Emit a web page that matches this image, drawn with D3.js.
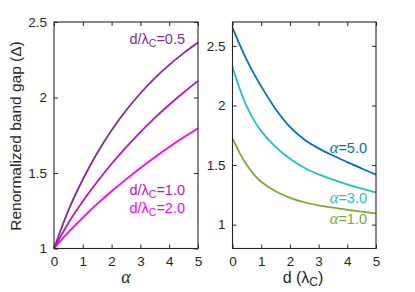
<!DOCTYPE html>
<html><head><meta charset="utf-8">
<script src="https://cdn.jsdelivr.net/npm/d3@7"></script>
<style>
html,body{margin:0;padding:0;background:#fff;}
svg{display:block;}
text{font-family:"Liberation Sans",Arial,Helvetica,sans-serif;fill:#262626;}
</style></head>
<body><svg id="c" width="415" height="292"></svg>
<script>
// ---------- data ----------
const alphaVals = [0, 0.5, 1, 1.5, 2, 2.5, 3, 3.5, 4, 4.5, 5];
const gapD05 = [1, 1.253, 1.457, 1.632, 1.783, 1.914, 2.028, 2.128, 2.216, 2.294, 2.364];
const gapD10 = [1, 1.169, 1.313, 1.442, 1.561, 1.670, 1.771, 1.865, 1.952, 2.033, 2.110];
const gapD20 = [1, 1.108, 1.205, 1.295, 1.379, 1.458, 1.533, 1.604, 1.672, 1.736, 1.797];

const dVals = [0, 0.25, 0.5, 0.75, 1, 1.5, 2, 2.5, 3, 3.5, 4, 4.5, 5];
const gapA5 = [2.653, 2.51, 2.38, 2.265, 2.16, 1.97, 1.82, 1.715, 1.64, 1.58, 1.525, 1.471, 1.42];
const gapA3 = [2.325, 2.14, 1.99, 1.875, 1.785, 1.652, 1.552, 1.477, 1.422, 1.377, 1.337, 1.302, 1.27];
const gapA1 = [1.725, 1.60, 1.50, 1.42, 1.36, 1.28, 1.225, 1.188, 1.162, 1.142, 1.125, 1.109, 1.095];

const xTicks = [0, 1, 2, 3, 4, 5];
const yTicksLeft = [1, 1.5, 2, 2.5];
const yTicksRight = [1, 1.5, 2, 2.5];

const leftSeries = [
  {name: "0.5", vals: gapD05, color: "#7E2F8E"},
  {name: "1.0", vals: gapD10, color: "#BE13BE"},
  {name: "2.0", vals: gapD20, color: "#FF00FF"}
];
const rightSeries = [
  {name: "5.0", vals: gapA5, color: "#0072BD"},
  {name: "3.0", vals: gapA3, color: "#1CC3C3"},
  {name: "1.0", vals: gapA1, color: "#77AC30"}
];

// ---------- drawing ----------
const svg = d3.select("#c");
const plotTop = 22, plotBottom = 248.5;

function panel(x0, x1, xDom, yDom, yTicks, xs, series) {
  const x = d3.scaleLinear().domain(xDom).range([x0, x1]);
  const y = d3.scaleLinear().domain(yDom).range([plotBottom, plotTop]);
  const g = svg.append("g");
  const fmt = d3.format("~g");
  const line = d3.line().x((d, i) => x(xs[i])).y(d => y(d)).curve(d3.curveCatmullRom.alpha(0.5));
  series.forEach(s => {
    g.append("path").attr("d", line(s.vals)).attr("fill", "none")
      .attr("stroke", s.color).attr("stroke-width", 1.8);
  });
  const ax = (gen, tr) => {
    const a = g.append("g").attr("transform", tr).call(gen);
    a.select(".domain").remove();
    a.selectAll("line").attr("stroke", "#262626").attr("stroke-width", 1);
    a.selectAll("text").attr("font-size", 13.5).attr("fill", "#262626")
      .style("font-family", '"Liberation Sans",Arial,sans-serif');
    return a;
  };
  ax(d3.axisBottom(x).tickValues(xTicks).tickFormat(fmt).tickSizeInner(-4).tickSizeOuter(0).tickPadding(8),
     `translate(0,${plotBottom})`);
  ax(d3.axisTop(x).tickValues(xTicks).tickFormat("").tickSizeInner(-4).tickSizeOuter(0),
     `translate(0,${plotTop})`);
  ax(d3.axisLeft(y).tickValues(yTicks).tickFormat(fmt).tickSizeInner(-4).tickSizeOuter(0).tickPadding(7),
     `translate(${x0},0)`);
  ax(d3.axisRight(y).tickValues(yTicks).tickFormat("").tickSizeInner(-4).tickSizeOuter(0),
     `translate(${x1},0)`);
  g.append("rect").attr("x", x0).attr("y", plotTop).attr("width", x1 - x0).attr("height", plotBottom - plotTop)
    .attr("fill", "none").attr("stroke", "#262626").attr("stroke-width", 1.1);
  return {x, y, g};
}

panel(54, 198, [0, 5], [1, 2.5], yTicksLeft, alphaVals, leftSeries);
panel(232.5, 376, [0, 5], [0.8, 2.7], yTicksRight, dVals, rightSeries);

// left labels d/λC=...
const leftLabY = [44, 195, 213];
leftSeries.forEach((s, i) => {
  const t = svg.append("text").attr("x", 185).attr("y", leftLabY[i]).attr("text-anchor", "end")
    .attr("font-size", 14.5).style("fill", s.color);
  t.append("tspan").text("d/λ");
  t.append("tspan").attr("font-size", 10.5).attr("dy", 2.5).text("C");
  t.append("tspan").attr("dy", -2.5).text("=" + s.name);
});
// right labels α=...
const rightLabY = [153, 203, 223.5];
rightSeries.forEach((s, i) => {
  const t = svg.append("text").attr("x", 367).attr("y", rightLabY[i]).attr("text-anchor", "end")
    .attr("font-size", 14.5).style("fill", s.color);
  t.append("tspan").style("font-family", '"Liberation Serif","Times New Roman",serif')
    .attr("font-style", "italic").attr("font-size", 16.5).text("α");
  t.append("tspan").text("=" + s.name);
});

// axis titles
svg.append("text").attr("x", 126).attr("y", 283).attr("text-anchor", "middle")
  .style("font-family", '"Liberation Serif","Times New Roman",serif').attr("font-style", "italic")
  .attr("font-size", 18).text("α");
const dl = svg.append("text").attr("x", 303).attr("y", 283).attr("text-anchor", "middle").attr("font-size", 16);
dl.append("tspan").text("d (λ");
dl.append("tspan").attr("font-size", 12).attr("dy", 2.5).text("C");
dl.append("tspan").attr("dy", -2.5).text(")");
svg.append("text").attr("transform", "translate(21,136) rotate(-90)").attr("text-anchor", "middle")
  .attr("font-size", 15.5).text("Renormalized band gap (Δ)");
</script></body></html>
